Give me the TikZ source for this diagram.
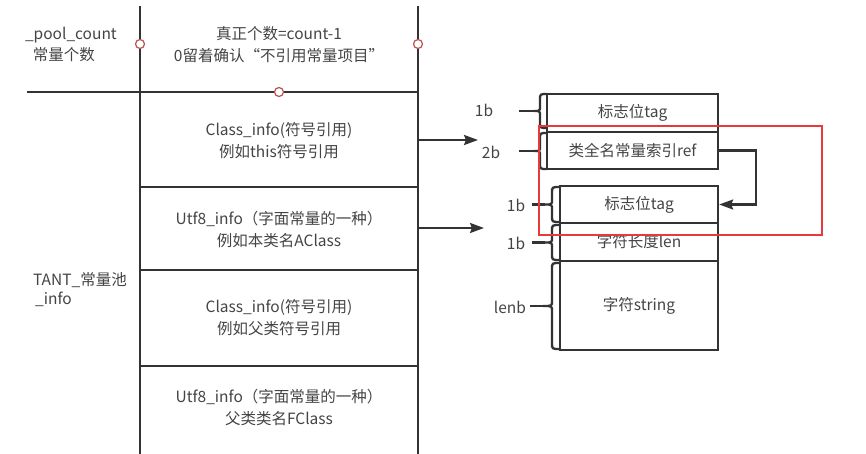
\documentclass[tikz,border=0pt]{standalone}
\usepackage{fontspec}
\setmainfont{Noto Sans CJK SC}
\usetikzlibrary{arrows.meta}
\definecolor{ln}{HTML}{333333}
\definecolor{tx}{HTML}{444444}
\definecolor{dotc}{HTML}{B85450}
\definecolor{redr}{HTML}{E83A3A}
\newcommand{\brc}[5]{%
  \draw[lnst] (#1,#4) .. controls (#2,#4) .. (#2,{#4+6})
    -- (#2,{(#4+#5)/2-5}) .. controls (#2,{(#4+#5)/2}) .. (#3,{(#4+#5)/2})
    .. controls (#2,{(#4+#5)/2}) .. (#2,{(#4+#5)/2+5})
    -- (#2,{#5-6}) .. controls (#2,#5) .. (#1,#5);}
\begin{document}
\begin{tikzpicture}[x=1pt,y=-1pt,
  lnst/.style={draw=ln,line width=2.3pt},
  txt/.style={text=tx,font=\fontsize{15.5}{22}\selectfont,align=center,inner sep=0pt},
  dotn/.style={circle,draw=dotc,fill=white,line width=1.2pt,minimum size=9pt,inner sep=0pt},
  boxn/.style={draw=ln,line width=2.3pt,text=tx,font=\fontsize{15.5}{22}\selectfont,inner sep=0pt},
  arr/.style={draw=ln,line width=2.3pt,-{Stealth[length=14pt,width=10pt,inset=2pt]}}]
\useasboundingbox (0,0) rectangle (866,454);
% main column
\draw[lnst] (140,6) -- (140,454);
\draw[lnst] (418,6) -- (418,454);
\draw[lnst] (27,92) -- (418,92);
\draw[lnst] (140,187) -- (418,187);
\draw[lnst] (140,270) -- (418,270);
\draw[lnst] (140,366) -- (418,366);
\node[txt] (r0) at (279,45) {真正个数=count-1\\0留着确认“不引用常量项目”};
\node[txt] (r1) at (279,141) {Class\_info(符号引用)\\例如this符号引用};
\node[txt] (r2) at (279,229) {Utf8\_info（字面常量的一种）\\例如本类名AClass};
\node[txt] (r3) at (279,318) {Class\_info(符号引用)\\例如父类符号引用};
\node[txt] (r4) at (279,408) {Utf8\_info（字面常量的一种）\\父类类名FClass};
% left labels
\node[txt,anchor=east] (l1) at (117,35) {\_pool\_count};
\node[txt,anchor=east] (l2) at (95,55) {常量个数};
\node[txt,anchor=east] (l3) at (127,280) {TANT\_常量池};
\node[txt,anchor=east] (l4) at (72,299) {\_info};
% dots
\node[dotn] (d1) at (140,44) {};
\node[dotn] (d2) at (418,44) {};
\node[dotn] (d3) at (279,92) {};
% arrows from main column
\coordinate (a1s) at (418,140);
\coordinate (a1e) at (478,140);
\coordinate (a2s) at (418,228);
\coordinate (a2e) at (484,228);
\draw[arr] (a1s) -- (a1e);
\draw[arr] (a2s) -- (a2e);
% upper struct
\node[boxn,minimum width=171pt,minimum height=38pt] (utag) at (632.5,113) {标志位tag};
\node[boxn,minimum width=171pt,minimum height=37pt] (uref) at (632.5,150.5) {类全名常量索引ref};
% lower struct
\node[boxn,minimum width=158pt,minimum height=37pt] (ltag) at (639,204.5) {标志位tag};
\node[boxn,minimum width=158pt,minimum height=38pt] (llen) at (639,242) {字符长度len};
\node[boxn,minimum width=158pt,minimum height=89pt] (lstr) at (639,305.5) {字符string};
% ref arrow
\draw[arr] (uref.east) -- ++(37,0) |- (ltag.east);
% braces
\brc{547}{540}{534}{94}{128}
\brc{547}{540}{534}{133}{169}
\brc{560}{552}{545}{187}{222}
\brc{560}{552}{545}{225}{260}
\brc{560}{552}{543}{263}{349}
\draw[lnst] (519,111) -- (534,111);
\draw[lnst] (519,151) -- (534,151);
\draw[lnst] (532,204.5) -- (545,204.5);
\draw[lnst] (532,242.5) -- (545,242.5);
\draw[lnst] (530,306) -- (543,306);
\node[txt] (b1) at (484,110) {1b};
\node[txt] (b2) at (491,152) {2b};
\node[txt] (b3) at (516,205) {1b};
\node[txt] (b4) at (516,243) {1b};
\node[txt] (b5) at (510,307) {lenb};
% red rectangle
\draw[draw=redr,line width=1.3pt] (539,126) rectangle (822,235);
\end{tikzpicture}
\end{document}
